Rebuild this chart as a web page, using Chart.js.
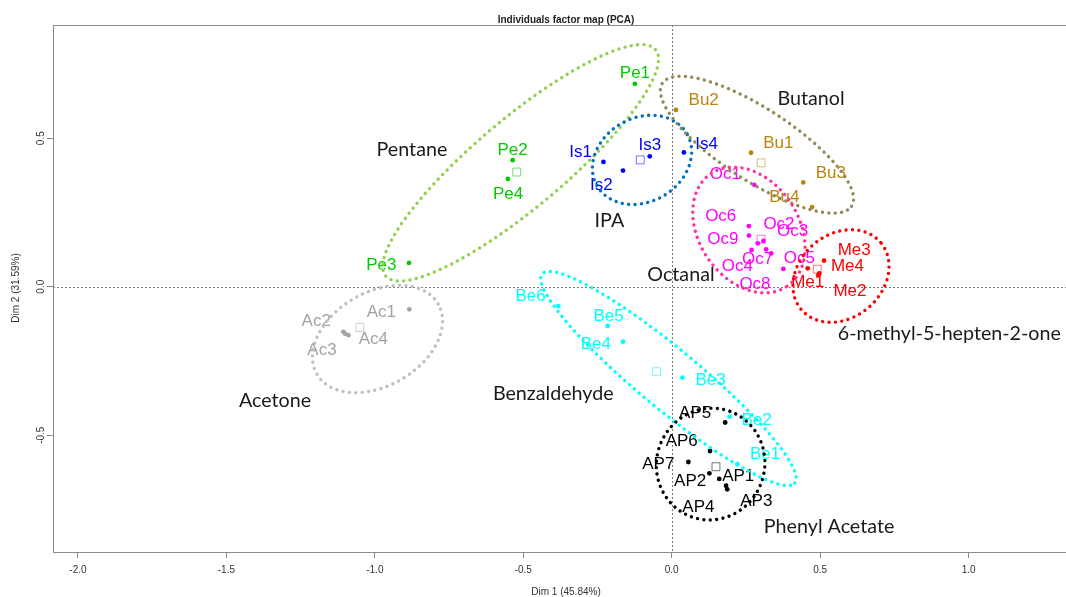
<!DOCTYPE html>
<html>
<head>
<meta charset="utf-8">
<title>Individuals factor map (PCA)</title>
<script src="https://cdn.jsdelivr.net/npm/chart.js@4.4.1/dist/chart.umd.min.js"></script>
<style>
  html, body { margin: 0; padding: 0; background: #fff; }
  canvas { display: block; }
</style>
</head>
<body>
<canvas id="pca" width="1066" height="597"></canvas>
<script>
// ─────────────────────────────────────────────
// Data (coordinates)
// ─────────────────────────────────────────────
const groupPrefix = ["Pe", "Is", "Bu", "Oc", "Me", "Ac", "Be", "AP"];
const groupNames = ["Pentane", "IPA", "Butanol", "Octanal", "6-methyl-5-hepten-2-one",
  "Acetone", "Benzaldehyde", "Phenyl Acetate"];

const peDim1 = [-0.124, -0.536, -0.885, -0.552];
const peDim2 = [0.683, 0.426, 0.080, 0.363];
const isDim1 = [-0.230, -0.164, -0.074, 0.041];
const isDim2 = [0.420, 0.391, 0.439, 0.452];
const buDim1 = [0.267, 0.014, 0.443, 0.473];
const buDim2 = [0.451, 0.595, 0.351, 0.268];
const ocDim1 = [0.278, 0.309, 0.318, 0.269, 0.376, 0.260, 0.290, 0.335, 0.260];
const ocDim2 = [0.343, 0.154, 0.126, 0.124, 0.060, 0.204, 0.146, 0.112, 0.172];
const meDim1 = [0.458, 0.497, 0.513, 0.494];
const meDim2 = [0.062, 0.045, 0.088, 0.039];
const acDim1 = [-0.884, -1.106, -1.089, -1.100];
const acDim2 = [-0.076, -0.152, -0.163, -0.158];
const beDim1 = [0.221, 0.195, 0.036, -0.164, -0.216, -0.382];
const beDim2 = [-0.597, -0.437, -0.306, -0.185, -0.132, -0.065];
const apDim1 = [0.160, 0.127, 0.187, 0.183, 0.180, 0.129, 0.056];
const apDim2 = [-0.647, -0.628, -0.682, -0.670, -0.457, -0.553, -0.590];

// group centres (hollow squares)
const centreDim1 = [-0.522, -0.106, 0.301, 0.301, 0.490, -1.050, -0.051, 0.149];
const centreDim2 = [0.386, 0.427, 0.417, 0.160, 0.059, -0.137, -0.286, -0.606];

// hand-drawn group ellipses: centre, semi-axes, tilt (deg)
const ellDim1 = [-0.509, -0.100, 0.287, 0.260, 0.570, -0.991, -0.011, 0.131];
const ellDim2 = [0.417, 0.427, 0.478, 0.191, 0.036, -0.176, -0.309, -0.597];
const ellA = [0.593, 0.175, 0.380, 0.229, 0.175, 0.236, 0.552, 0.189];
const ellB = [0.150, 0.141, 0.121, 0.168, 0.141, 0.158, 0.101, 0.182];
const ellAngle = [40, 30, -33, -56, 40, 30, -39.6, 70];

const xTicks = [-2.0, -1.5, -1.0, -0.5, 0.0, 0.5, 1.0];
const yTicks = [-0.5, 0.0, 0.5];
const xTitle = "Dim 1 (45.84%)";
const yTitle = "Dim 2 (31.59%)";
const plotTitle = "Individuals factor map (PCA)";

const dim1 = [peDim1, isDim1, buDim1, ocDim1, meDim1, acDim1, beDim1, apDim1];
const dim2 = [peDim2, isDim2, buDim2, ocDim2, meDim2, acDim2, beDim2, apDim2];

// ─────────────────────────────────────────────
// Styling / layout
// ─────────────────────────────────────────────
const AXIS = "#8a8a8a";
const pointColors = ["#00CD00", "#0000FF", "#B8860B", "#FF00FF", "#FF0000", "#A3A3A3", "#00FFFF", "#000000"];
const ellColors = ["#92D050", "#0070C0", "#948A54", "#FF3399", "#FF0000", "#BFBFBF", "#00FFFF", "#000000"];

// where group names sit (axis units)
const namePos = [[-0.875, 0.463], [-0.210, 0.223], [0.469, 0.635], [0.031, 0.044],
  [0.935, -0.157], [-1.336, -0.380], [-0.399, -0.358], [0.530, -0.804]];

// label nudges in px from each point (repel-style placement of the original)
const labelNudge = [
  [[0, -11.5], [0, -11], [-27.6, 0.7], [0.3, 14.3]],
  [[-22.8, -11.2], [-21.7, 13.5], [0, -12.1], [22.7, -9.8]],
  [[27.3, -11], [27.8, -10.7], [27.5, -10.6], [-27.8, -11]],
  [[-29, -11.5], [15.5, -17.7], [26.5, -19.3], [-14.2, 15], [15.9, -12.3],
   [-28.2, -11], [-0.2, 15], [-16.2, 29.9], [-26, 2.6]],
  [[0, 12.5], [30.7, 16.7], [30.2, -11.9], [29.1, -10.1]],
  [[-28, 2], [-27.1, -11.8], [-26.4, 14.2], [28.2, 4.7]],
  [[27.7, -11], [26.9, 2], [28.2, 1.6], [-27.2, 1.6], [1, -11], [-27.8, -11.5]],
  [[19, -4], [-19.3, 6.7], [29.1, 10.7], [-27.7, 20.3], [-30, -10.6], [-28.3, -11], [-30, 1.3]],
];

function withAlpha(hex, a) {
  const n = parseInt(hex.slice(1), 16);
  return `rgba(${n >> 16},${(n >> 8) & 255},${n & 255},${a})`;
}

const datasets = [];
dim1.forEach((xs, g) => {
  datasets.push({
    label: groupNames[g],
    data: xs.map((v, i) => ({ x: v, y: dim2[g][i] })),
    backgroundColor: pointColors[g],
    borderWidth: 0,
    pointRadius: 2.4,
  });
});
datasets.push({
  label: "centres",
  data: centreDim1.map((v, i) => ({ x: v, y: centreDim2[i] })),
  pointStyle: "rect",
  pointRadius: 5.6,
  backgroundColor: "rgba(0,0,0,0)",
  borderColor: pointColors.map(c => withAlpha(c, 0.55)),
  borderWidth: 1,
});

// ─────────────────────────────────────────────
// Overlay: zero lines, labels, ellipses, titles
// ─────────────────────────────────────────────
function traceEllipse(ctx, x, y, i) {
  const th = ellAngle[i] * Math.PI / 180;
  ctx.beginPath();
  for (let k = 0; k <= 240; k++) {
    const t = (k / 240) * 2 * Math.PI;
    const u = ellA[i] * Math.cos(t);
    const v = ellB[i] * Math.sin(t);
    const px = x.getPixelForValue(ellDim1[i] + u * Math.cos(th) - v * Math.sin(th));
    const py = y.getPixelForValue(ellDim2[i] + u * Math.sin(th) + v * Math.cos(th));
    if (k === 0) ctx.moveTo(px, py); else ctx.lineTo(px, py);
  }
}

const overlay = {
  id: "overlay",
  beforeDatasetsDraw(chart) {
    const { ctx, chartArea: a, scales: { x, y } } = chart;
    ctx.save();
    ctx.strokeStyle = "#7a7a7a";
    ctx.lineWidth = 1;
    ctx.setLineDash([2, 2]);
    const x0 = Math.round(x.getPixelForValue(0)) + 0.5;
    const y0 = Math.round(y.getPixelForValue(0)) + 0.5;
    ctx.beginPath();
    ctx.moveTo(a.left, y0); ctx.lineTo(a.right, y0);
    ctx.moveTo(x0, a.top); ctx.lineTo(x0, a.bottom);
    ctx.stroke();
    // top of the frame
    ctx.setLineDash([]);
    ctx.strokeStyle = AXIS;
    ctx.beginPath();
    ctx.moveTo(a.left, Math.round(a.top) + 0.5);
    ctx.lineTo(a.right, Math.round(a.top) + 0.5);
    ctx.stroke();
    ctx.restore();
  },
  afterDatasetsDraw(chart) {
    const { ctx, scales: { x, y } } = chart;
    ctx.save();

    // individual labels
    ctx.font = "17px 'Liberation Sans', Arial, sans-serif";
    ctx.textAlign = "center";
    ctx.textBaseline = "alphabetic";
    dim1.forEach((xs, g) => {
      const meta = chart.getDatasetMeta(g);
      ctx.fillStyle = pointColors[g];
      xs.forEach((_, i) => {
        const el = meta.data[i];
        const [dx, dy] = labelNudge[g][i];
        ctx.fillText(groupPrefix[g] + (i + 1), el.x + dx, el.y + dy + 6);
      });
    });

    // ellipses
    ctx.lineWidth = 3.4;
    ctx.lineCap = "round";
    ctx.setLineDash([0.01, 6.4]);
    ellColors.forEach((c, i) => {
      ctx.strokeStyle = c;
      traceEllipse(ctx, x, y, i);
      ctx.stroke();
    });
    ctx.setLineDash([]);

    // group names
    ctx.font = "19.7px Lato, 'Open Sans', sans-serif";
    ctx.fillStyle = "#1a1a1a";
    groupNames.forEach((n, i) => {
      ctx.fillText(n, x.getPixelForValue(namePos[i][0]), y.getPixelForValue(namePos[i][1]) + 7);
    });

    // titles
    ctx.fillStyle = "#222";
    ctx.font = "bold 10px 'Liberation Sans', Arial, sans-serif";
    ctx.fillText(plotTitle, 566, 23);
    ctx.font = "10px 'Liberation Sans', Arial, sans-serif";
    ctx.fillStyle = "#333";
    ctx.fillText(xTitle, 566, 595);
    ctx.translate(19, 288);
    ctx.rotate(-Math.PI / 2);
    ctx.fillText(yTitle, 0, 0);
    ctx.restore();
  },
};

// keep the frame edge-to-edge: drop the label overhang padding Chart.js adds
function fixedBox(size, key) {
  return (s) => {
    s[key] = size;
    s.paddingLeft = 0; s.paddingRight = 0; s.paddingTop = 0; s.paddingBottom = 0;
  };
}

// ─────────────────────────────────────────────
// Chart
// ─────────────────────────────────────────────
Chart.defaults.font.family = "'Liberation Sans', Arial, sans-serif";

new Chart(document.getElementById("pca"), {
  type: "scatter",
  data: { datasets },
  options: {
    responsive: false,
    animation: false,
    layout: { autoPadding: false, padding: { top: 25, left: 0, right: 0, bottom: 0 } },
    plugins: { legend: { display: false }, tooltip: { enabled: false }, title: { display: false } },
    scales: {
      x: {
        type: "linear",
        min: -2.084,
        max: 1.328,
        afterBuildTicks: (s) => { s.ticks = xTicks.map(v => ({ value: v })); },
        afterFit: fixedBox(45, "height"),
        grid: { drawOnChartArea: false, tickLength: 6, color: AXIS },
        border: { color: AXIS },
        ticks: {
          color: "#333", font: { size: 10 }, padding: 6,
          maxRotation: 0, autoSkip: false,
          callback: (v) => Number(v).toFixed(1),
        },
      },
      y: {
        type: "linear",
        min: -0.893,
        max: 0.881,
        afterBuildTicks: (s) => { s.ticks = yTicks.map(v => ({ value: v })); },
        afterFit: fixedBox(53, "width"),
        grid: { drawOnChartArea: false, tickLength: 6, color: AXIS },
        border: { color: AXIS },
        ticks: {
          color: "#333", font: { size: 10 }, padding: -3,
          minRotation: 90, maxRotation: 90, crossAlign: "center", autoSkip: false,
          callback: (v) => Number(v).toFixed(1),
        },
      },
    },
  },
  plugins: [overlay],
});
</script>
</body>
</html>
